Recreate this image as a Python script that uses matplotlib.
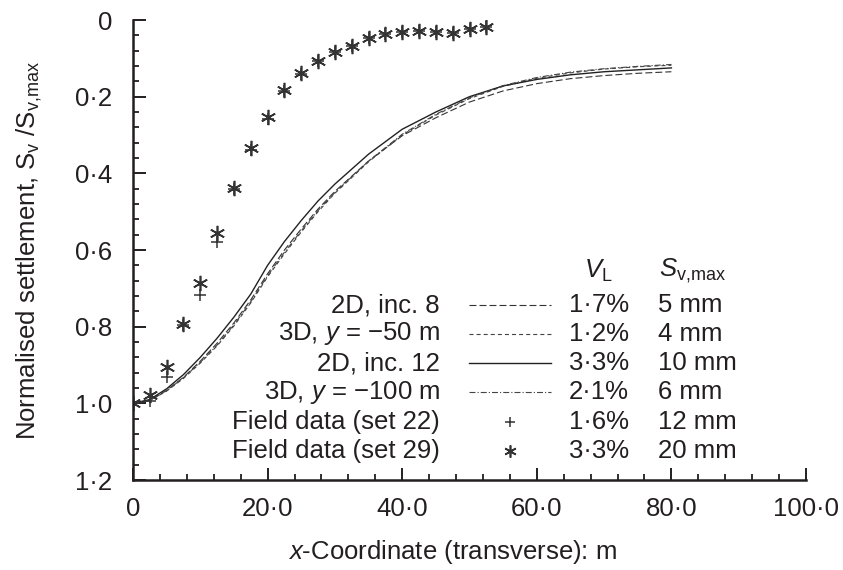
import numpy as np
import matplotlib
matplotlib.use('Agg')
import matplotlib.pyplot as plt
from matplotlib.ticker import MultipleLocator, FixedLocator, FixedFormatter

plt.rcParams['font.family'] = ['Liberation Sans', 'DejaVu Sans']
plt.rcParams['mathtext.fontset'] = 'custom'
plt.rcParams['mathtext.rm'] = 'Liberation Sans'
plt.rcParams['mathtext.it'] = 'Liberation Sans:italic'
plt.rcParams['lines.scale_dashes'] = False

INK = '#231f20'
FS = 18.5

# transverse coordinate of the computed profiles (m)
x_fe = [0, 2.5, 5, 7.5, 10, 12.5, 15, 17.5, 20, 22.5, 25, 27.5, 30,
        35, 40, 45, 50, 55, 60, 65, 70, 75, 80]
inc8_2d = [1.0, 0.992, 0.966, 0.932, 0.89, 0.843, 0.79, 0.73, 0.662, 0.6, 0.545,
           0.493, 0.447, 0.368, 0.302, 0.255, 0.214, 0.185, 0.166, 0.153, 0.145,
           0.139, 0.135]
y50_3d = [1.0, 0.993, 0.968, 0.935, 0.895, 0.85, 0.798, 0.738, 0.67, 0.61, 0.553,
          0.5, 0.452, 0.37, 0.3, 0.248, 0.205, 0.173, 0.152, 0.138, 0.128,
          0.122, 0.118]
inc12_2d = [1.0, 0.99, 0.962, 0.925, 0.88, 0.83, 0.775, 0.715, 0.64, 0.578, 0.523,
            0.472, 0.428, 0.35, 0.285, 0.24, 0.2, 0.172, 0.155, 0.143, 0.135,
            0.13, 0.125]
y100_3d = [1.0, 0.993, 0.967, 0.933, 0.893, 0.848, 0.795, 0.735, 0.667, 0.606, 0.55,
           0.497, 0.45, 0.368, 0.298, 0.246, 0.203, 0.171, 0.15, 0.136, 0.127,
           0.121, 0.116]

# field measurements
x_field = [0, 2.5, 5, 7.5, 10, 12.5, 15, 17.5, 20, 22.5, 25, 27.5, 30, 32.5,
           35, 37.5, 40, 42.5, 45, 47.5, 50, 52.5]
set22 = [1.0, 0.995, 0.93, 0.795, 0.718, 0.578, 0.44, 0.34, 0.258, 0.185, 0.14,
         0.107, 0.083, 0.068, 0.048, 0.037, 0.031, 0.028, 0.031, 0.035, 0.023, 0.017]
set29 = [1.0, 0.978, 0.906, 0.793, 0.686, 0.556, 0.438, 0.334, 0.252, 0.183, 0.139,
         0.106, 0.083, 0.068, 0.048, 0.037, 0.031, 0.028, 0.031, 0.035, 0.023, 0.017]

labels = ['2D, inc. 8', '3D, $y$ = \u221250 m', '2D, inc. 12',
          '3D, $y$ = \u2212100 m', 'Field data (set 22)', 'Field data (set 29)']
vl = ['1\u00b77%', '1\u00b72%', '3\u00b73%', '2\u00b71%', '1\u00b76%', '3\u00b73%']
svmax = ['5 mm', '4 mm', '10 mm', '6 mm', '12 mm', '20 mm']

xticks = [0, 20, 40, 60, 80, 100]
xticklabels = ['0', '20\u00b70', '40\u00b70', '60\u00b70', '80\u00b70', '100\u00b70']
yticks = [0, 0.2, 0.4, 0.6, 0.8, 1.0, 1.2]
yticklabels = ['0', '0\u00b72', '0\u00b74', '0\u00b76', '0\u00b78', '1\u00b70', '1\u00b72']

fig = plt.figure(figsize=(8.43, 5.70), dpi=100)
ax = fig.add_axes([133/843, 90/570, 673/843, 460/570])

lw = 0.8
styles = [
    dict(color='#333333', lw=lw, dashes=(5, 2.2)),
    dict(color='#444444', lw=lw, dashes=(2.9, 2.2)),
    dict(color='#222222', lw=1.0, linestyle='-'),
    dict(color='#444444', lw=lw, dashes=(4.3, 1.5, 0.8, 1.5)),
]
series = [inc8_2d, y50_3d, inc12_2d, y100_3d]
handles = []
for ys, st in zip(series, styles):
    h, = ax.plot(x_fe, ys, **st)
    handles.append(h)

mk22 = dict(marker='+', ms=9, mew=1.1, color='#333333', ls='none')
mk29 = dict(marker=(6, 2, 0), ms=11, mew=1.2, color='#333333', ls='none')
h22, = ax.plot(x_field, set22, **mk22)
h29, = ax.plot(x_field, set29, **mk29)

ax.set_xlim(0, 100)
ax.set_ylim(1.2, 0)

ax.xaxis.set_major_locator(FixedLocator(xticks))
ax.xaxis.set_major_formatter(FixedFormatter(xticklabels))
ax.xaxis.set_minor_locator(MultipleLocator(4))
ax.yaxis.set_major_locator(FixedLocator(yticks))
ax.yaxis.set_major_formatter(FixedFormatter(yticklabels))
ax.yaxis.set_minor_locator(MultipleLocator(0.04))

for side in ['top', 'right']:
    ax.spines[side].set_visible(False)
for side in ['left', 'bottom']:
    ax.spines[side].set_linewidth(1.8)
    ax.spines[side].set_color(INK)

ax.tick_params(which='major', direction='in', length=9, width=1.4, color=INK,
               labelsize=FS, labelcolor=INK)
ax.tick_params(which='minor', direction='in', length=4.5, width=1.3, color=INK)
ax.tick_params(axis='y', which='major', pad=15)
ax.tick_params(axis='x', which='major', pad=12)

ax.set_xlabel('$x$-Coordinate (transverse): m', fontsize=FS, color=INK)
ax.xaxis.set_label_coords(0.475, -0.125)
ax.set_ylabel('Normalised settlement, S$_\\mathrm{v}$ /S$_\\mathrm{v{,}max}$',
              fontsize=FS, color=INK)
ax.yaxis.set_label_coords(-0.132, 0.5)

# key table: description, line sample, volume loss, peak settlement
row_y = [0.744, 0.819, 0.895, 0.971, 1.049, 1.124]
key_handles = handles + [h22, h29]
for i, (lab, v, s, h) in enumerate(zip(labels, vl, svmax, key_handles)):
    yy = row_y[i]
    ax.text(45.6, yy, lab, ha='right', va='center', fontsize=FS, color=INK)
    if i < 4:
        ax.plot([49.9, 62.1], [yy, yy], **styles[i])
    else:
        st = dict(mk22 if i == 4 else mk29)
        st['ms'] = st['ms'] * 0.8
        ax.plot([56.0], [yy], **st)
    ax.text(73.7, yy, v, ha='right', va='center', fontsize=FS, color=INK)
    ax.text(78.0, yy, s, ha='left', va='center', fontsize=FS, color=INK)

ax.text(69.1, 0.655, '$V_\\mathrm{L}$', ha='center', va='center', fontsize=FS, color=INK)
ax.text(78.2, 0.655, '$S_\\mathrm{v{,}max}$', ha='left', va='center', fontsize=FS, color=INK)

fig.savefig('out.png', dpi=100)
